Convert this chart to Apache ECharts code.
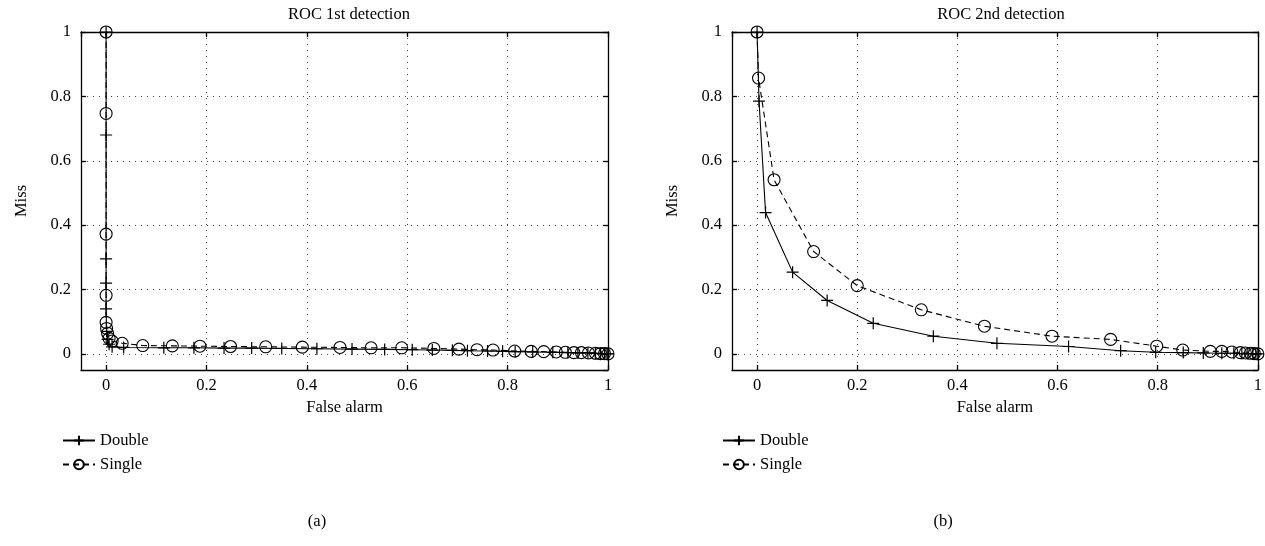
<!DOCTYPE html>
<html>
<head>
<meta charset="utf-8">
<script src="https://cdn.jsdelivr.net/npm/echarts@6/dist/echarts.min.js"></script>
<style>
html,body{margin:0;padding:0;background:#fff;}
#chart{width:1265px;height:546px;}
</style>
</head>
<body>
<div id="chart"></div>
<script>
// ---- Data ----
const titlesTop = ['ROC 1st detection', 'ROC 2nd detection'];
const panelLabels = ['(a)', '(b)'];
const seriesNames = ['Double', 'Single'];

// Panel (a): ROC 1st detection
const aDoubleX = [0, 0, 0, 0, 0, 0.001, 0.003, 0.006, 0.012, 0.035, 0.115, 0.175, 0.235, 0.29, 0.35, 0.42, 0.49, 0.555, 0.61, 0.65, 0.69, 0.72, 0.76, 0.79, 0.815, 0.85, 0.89, 0.92, 0.94, 0.96, 0.975, 0.985, 0.993, 0.998, 1.0];
const aDoubleY = [1, 0.68, 0.295, 0.22, 0.14, 0.07, 0.045, 0.03, 0.022, 0.02, 0.019, 0.019, 0.018, 0.018, 0.017, 0.016, 0.015, 0.014, 0.013, 0.012, 0.011, 0.01, 0.009, 0.008, 0.007, 0.006, 0.005, 0.004, 0.003, 0.003, 0.002, 0.001, 0.001, 0.0005, 0];
const aSingleX = [0, 0, 0, 0, 0, 0.001, 0.003, 0.006, 0.012, 0.032, 0.073, 0.132, 0.187, 0.248, 0.318, 0.391, 0.466, 0.528, 0.589, 0.653, 0.703, 0.739, 0.771, 0.814, 0.847, 0.872, 0.897, 0.915, 0.932, 0.947, 0.961, 0.975, 0.985, 0.993, 1.0];
const aSingleY = [1, 0.747, 0.372, 0.182, 0.098, 0.079, 0.064, 0.048, 0.04, 0.033, 0.026, 0.025, 0.024, 0.023, 0.022, 0.021, 0.02, 0.019, 0.019, 0.017, 0.015, 0.013, 0.012, 0.009, 0.008, 0.007, 0.006, 0.005, 0.004, 0.004, 0.003, 0.002, 0.001, 0.001, 0];

// Panel (b): ROC 2nd detection
const bDoubleX = [0, 0.004, 0.017, 0.071, 0.140, 0.232, 0.352, 0.479, 0.622, 0.726, 0.796, 0.851, 0.891, 0.928, 0.952, 0.968, 0.98, 0.99, 0.996, 1.0];
const bDoubleY = [1, 0.785, 0.439, 0.254, 0.166, 0.095, 0.055, 0.033, 0.023, 0.01, 0.005, 0.004, 0.003, 0.002, 0.002, 0.001, 0.001, 0.001, 0, 0];
const bSingleX = [0, 0.003, 0.034, 0.113, 0.200, 0.328, 0.454, 0.589, 0.706, 0.798, 0.850, 0.905, 0.928, 0.948, 0.965, 0.975, 0.985, 0.993, 1.0];
const bSingleY = [1, 0.857, 0.541, 0.318, 0.212, 0.137, 0.086, 0.055, 0.045, 0.024, 0.012, 0.008, 0.008, 0.006, 0.004, 0.003, 0.002, 0.001, 0];

const axisMin = -0.05, axisMax = 1;
const xName = 'False alarm';
const yName = 'Miss';

// ---- Build option ----
const FONT = "'Liberation Serif', 'DejaVu Serif', serif";
const FS = 16.5;
const pair = (xs, ys) => xs.map((x, i) => [x, ys[i]]);
const PLUS = 'path://M0,6 L12,6 M6,0 L6,12';

const grids = [
  {left: 81, top: 32, width: 527, height: 338},
  {left: 732, top: 32, width: 529, height: 338}
];

const xAxes = [], yAxes = [];
grids.forEach((g, gi) => {
  xAxes.push({
    type: 'value', gridIndex: gi, position: 'bottom', min: axisMin, max: axisMax,
    name: xName, nameLocation: 'middle', nameGap: 28,
    nameTextStyle: {fontFamily: FONT, fontSize: FS, color: '#000'},
    axisLine: {show: true, onZero: false, lineStyle: {color: '#000', width: 1.3}},
    axisTick: {show: true, inside: true, length: 5, lineStyle: {color: '#000', width: 1.3}},
    axisLabel: {showMinLabel: false, margin: 7, fontFamily: FONT, fontSize: FS, color: '#000'},
    splitLine: {show: true, lineStyle: {color: '#444', width: 1, type: [1, 5]}}
  });
  xAxes.push({
    type: 'value', gridIndex: gi, position: 'top', min: axisMin, max: axisMax,
    axisLine: {show: true, onZero: false, lineStyle: {color: '#000', width: 1.3}},
    axisTick: {show: true, inside: true, length: 5, lineStyle: {color: '#000', width: 1.3}},
    axisLabel: {show: false}, splitLine: {show: false}
  });
  yAxes.push({
    type: 'value', gridIndex: gi, position: 'left', min: axisMin, max: axisMax,
    name: yName, nameLocation: 'middle', nameGap: 51,
    nameTextStyle: {fontFamily: FONT, fontSize: FS, color: '#000'},
    axisLine: {show: true, onZero: false, lineStyle: {color: '#000', width: 1.3}},
    axisTick: {show: true, inside: true, length: 5, lineStyle: {color: '#000', width: 1.3}},
    axisLabel: {showMinLabel: false, margin: 10, fontFamily: FONT, fontSize: FS, color: '#000'},
    splitLine: {show: true, lineStyle: {color: '#444', width: 1, type: [1, 5]}}
  });
  yAxes.push({
    type: 'value', gridIndex: gi, position: 'right', min: axisMin, max: axisMax,
    axisLine: {show: true, onZero: false, lineStyle: {color: '#000', width: 1.3}},
    axisTick: {show: true, inside: true, length: 5, lineStyle: {color: '#000', width: 1.3}},
    axisLabel: {show: false}, splitLine: {show: false}
  });
});

function doubleSeries(data, gi) {
  return {
    name: seriesNames[0], type: 'line', xAxisIndex: gi * 2, yAxisIndex: gi * 2,
    data: data, symbol: PLUS, symbolSize: 12, showAllSymbol: true,
    lineStyle: {color: '#000', width: 1.1, type: 'solid'},
    itemStyle: {color: 'rgba(0,0,0,0)', borderColor: '#000', borderWidth: 1.2},
    emphasis: {disabled: true}, animation: false, z: 3
  };
}
function singleSeries(data, gi) {
  return {
    name: seriesNames[1], type: 'line', xAxisIndex: gi * 2, yAxisIndex: gi * 2,
    data: data, symbol: 'circle', symbolSize: 12, showAllSymbol: true,
    lineStyle: {color: '#000', width: 1.1, type: [6, 4]},
    itemStyle: {color: 'rgba(0,0,0,0)', borderColor: '#000', borderWidth: 1.1},
    emphasis: {disabled: true}, animation: false, z: 2
  };
}

const series = [
  doubleSeries(pair(aDoubleX, aDoubleY), 0),
  singleSeries(pair(aSingleX, aSingleY), 0),
  doubleSeries(pair(bDoubleX, bDoubleY), 1),
  singleSeries(pair(bSingleX, bSingleY), 1)
];

const legendBase = {
  data: seriesNames, orient: 'vertical', itemWidth: 32, itemHeight: 12, itemGap: 7,
  padding: 0, selectedMode: false,
  textStyle: {fontFamily: FONT, fontSize: FS, color: '#000'}
};

const titleStyle = {fontFamily: FONT, fontSize: FS, fontWeight: 'normal', color: '#000'};
const option = {
  backgroundColor: '#fff',
  animation: false,
  title: [
    {text: titlesTop[0], left: 344, top: 1, textAlign: 'center', textStyle: titleStyle},
    {text: titlesTop[1], left: 996, top: 1, textAlign: 'center', textStyle: titleStyle},
    {text: panelLabels[0], left: 312, top: 508, textAlign: 'center', textStyle: titleStyle},
    {text: panelLabels[1], left: 938, top: 508, textAlign: 'center', textStyle: titleStyle}
  ],
  legend: [
    Object.assign({left: 62, top: 432}, legendBase),
    Object.assign({left: 722, top: 432}, legendBase)
  ],
  grid: grids,
  xAxis: xAxes,
  yAxis: yAxes,
  series: series
};

const chart = echarts.init(document.getElementById('chart'), null, {renderer: 'canvas'});
chart.setOption(option);
</script>
</body>
</html>
